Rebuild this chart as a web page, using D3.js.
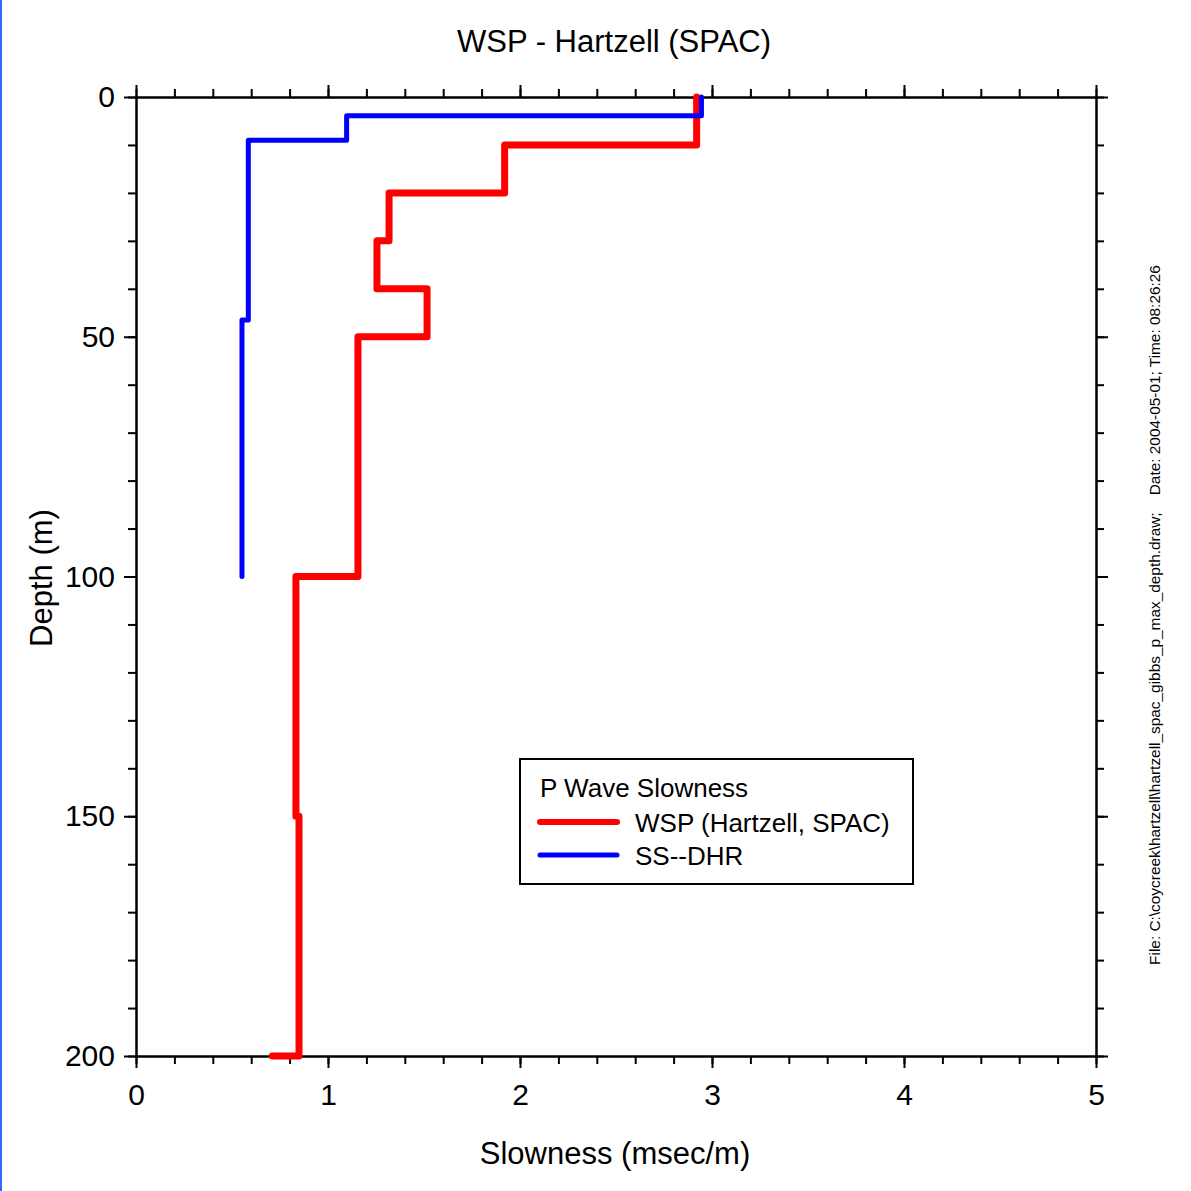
<!DOCTYPE html>
<html>
<head>
<meta charset="utf-8">
<script src="https://cdn.jsdelivr.net/npm/d3@7"></script>
<style>
html,body{margin:0;padding:0;background:#fff;}
svg{display:block;}
text{font-family:"Liberation Sans",Arial,sans-serif;fill:#000;}
</style>
</head>
<body>
<script>
// ---- data ----
const chartTitle = "WSP - Hartzell (SPAC)";
const xLabel = "Slowness (msec/m)";
const yLabel = "Depth (m)";
const legendTitle = "P Wave Slowness";
const seriesNames = ["WSP (Hartzell, SPAC)", "SS--DHR"];
const seriesColors = ["#ff0000", "#0000ff"];
// WSP layers: top depths (m) and slowness (msec/m); last value is the half-space at 200 m
const wspDepths = [0, 10, 20, 30, 40, 50, 100, 150, 200];
const wspSlowness = [2.92, 1.92, 1.318, 1.255, 1.516, 1.156, 0.833, 0.849, 0.71];
// SS--DHR layers: boundaries (m) and slowness
const dhrDepths = [0, 3.9, 9, 46.5, 100];
const dhrSlowness = [2.945, 1.097, 0.585, 0.552];
const xTicks = [0, 1, 2, 3, 4, 5];
const yTicks = [0, 50, 100, 150, 200];
const footer = "File: C:\\coycreek\\hartzell\\hartzell_spac_gibbs_p_max_depth.draw;    Date: 2004-05-01; Time: 08:26:26";

const W = 1191, H = 1191;
const L = 136, R = 1096, T = 97, B = 1056;
const FONT = '"Liberation Sans",Arial,sans-serif';

const svg = d3.select("body").append("svg").attr("width", W).attr("height", H);
svg.append("rect").attr("width", W).attr("height", H).attr("fill", "#fff");
// left edge blue border
svg.append("line").attr("x1", 1).attr("x2", 1).attr("y1", 0).attr("y2", H)
  .attr("stroke", "#3366ff").attr("stroke-width", 2);

const x = d3.scaleLinear().domain([0, 5]).range([L, R]);
const y = d3.scaleLinear().domain([0, 200]).range([T, B]);

const minorX = d3.range(0, 5.0001, 0.2).map(v => +v.toFixed(2));
const minorY = d3.range(0, 200.0001, 10);

function axisLines(g) {
  g.select(".domain").attr("stroke", "#000").attr("stroke-width", 2);
  g.selectAll(".tick line").attr("stroke", "#000").attr("stroke-width", 2);
}

const minorLen = 8, majorLen = 12;
svg.append("g").attr("transform", `translate(0,${B})`)
  .call(d3.axisBottom(x).tickValues(minorX).tickSize(minorLen).tickSizeOuter(0).tickFormat(""))
  .call(axisLines);
svg.append("g").attr("transform", `translate(0,${T})`)
  .call(d3.axisTop(x).tickValues(minorX).tickSize(minorLen).tickSizeOuter(0).tickFormat(""))
  .call(axisLines);
svg.append("g").attr("transform", `translate(${L},0)`)
  .call(d3.axisLeft(y).tickValues(minorY).tickSize(minorLen).tickSizeOuter(0).tickFormat(""))
  .call(axisLines);
svg.append("g").attr("transform", `translate(${R},0)`)
  .call(d3.axisRight(y).tickValues(minorY).tickSize(minorLen).tickSizeOuter(0).tickFormat(""))
  .call(axisLines);

const gxB = svg.append("g").attr("transform", `translate(0,${B})`)
  .call(d3.axisBottom(x).tickValues(xTicks).tickSize(majorLen).tickSizeOuter(0).tickFormat(d3.format("d")).tickPadding(16))
  .call(axisLines);
gxB.attr("font-family", FONT).attr("font-size", 30);
gxB.selectAll(".tick text").attr("fill", "#000");
svg.append("g").attr("transform", `translate(0,${T})`)
  .call(d3.axisTop(x).tickValues(xTicks).tickSize(majorLen).tickSizeOuter(0).tickFormat(""))
  .call(axisLines);
const gyL = svg.append("g").attr("transform", `translate(${L},0)`)
  .call(d3.axisLeft(y).tickValues(yTicks).tickSize(majorLen).tickSizeOuter(0).tickFormat(d3.format("d")).tickPadding(9))
  .call(axisLines);
gyL.attr("font-family", FONT).attr("font-size", 30);
gyL.selectAll(".tick text").attr("fill", "#000");
svg.append("g").attr("transform", `translate(${R},0)`)
  .call(d3.axisRight(y).tickValues(yTicks).tickSize(majorLen).tickSizeOuter(0).tickFormat(""))
  .call(axisLines);

function wspPoints() {
  const pts = [];
  for (let i = 0; i < wspDepths.length - 1; i++) {
    pts.push([wspSlowness[i], wspDepths[i]]);
    pts.push([wspSlowness[i], wspDepths[i + 1]]);
  }
  pts.push([wspSlowness[wspSlowness.length - 1], wspDepths[wspDepths.length - 1]]);
  return pts;
}
function dhrPoints() {
  const pts = [];
  for (let i = 0; i < dhrSlowness.length; i++) {
    pts.push([dhrSlowness[i], dhrDepths[i]]);
    pts.push([dhrSlowness[i], dhrDepths[i + 1]]);
  }
  return pts;
}
const line = d3.line().x(d => x(d[0])).y(d => y(d[1]));

svg.append("path").attr("d", line(wspPoints()))
  .attr("fill", "none").attr("stroke", seriesColors[0]).attr("stroke-width", 7)
  .attr("stroke-linejoin", "round").attr("stroke-linecap", "round");
svg.append("path").attr("d", line(dhrPoints()))
  .attr("fill", "none").attr("stroke", seriesColors[1]).attr("stroke-width", 5)
  .attr("stroke-linejoin", "round").attr("stroke-linecap", "round");

svg.append("text").attr("x", 614).attr("y", 52).attr("text-anchor", "middle")
  .style("font-size", "31px").text(chartTitle);
svg.append("text").attr("x", 615).attr("y", 1164).attr("text-anchor", "middle")
  .style("font-size", "31px").text(xLabel);
svg.append("text").attr("transform", "translate(52,578) rotate(-90)").attr("text-anchor", "middle")
  .style("font-size", "31px").text(yLabel);

svg.append("text").attr("transform", "translate(1160,615) rotate(-90)").attr("text-anchor", "middle")
  .style("font-size", "15.4px").attr("xml:space", "preserve").style("white-space", "pre").text(footer);

const lg = svg.append("g");
lg.append("rect").attr("x", 520).attr("y", 759).attr("width", 393).attr("height", 125)
  .attr("fill", "#fff").attr("stroke", "#000").attr("stroke-width", 2);
lg.append("text").attr("x", 540).attr("y", 797).style("font-size", "26px").text(legendTitle);
const legY = [822, 855];
seriesNames.forEach((n, i) => {
  lg.append("line").attr("x1", 540).attr("x2", 617).attr("y1", legY[i]).attr("y2", legY[i])
    .attr("stroke", seriesColors[i]).attr("stroke-width", i === 0 ? 6 : 5).attr("stroke-linecap", "round");
  lg.append("text").attr("x", 635).attr("y", legY[i] + 10).style("font-size", "26px").text(n);
});
</script>
</body>
</html>
